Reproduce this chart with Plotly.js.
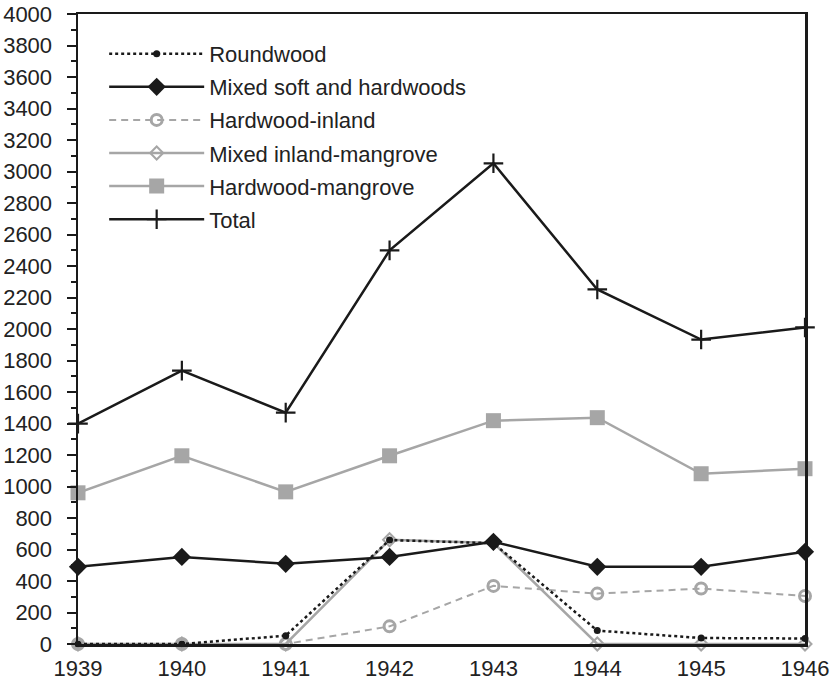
<!DOCTYPE html>
<html>
<head>
<meta charset="utf-8">
<script src="https://cdn.plot.ly/plotly-3.0.1.min.js"></script>
<style>html,body{margin:0;padding:0;background:#fff}#chart{width:831px;height:687px}</style>
</head>
<body>
<div id="chart"></div>
<script>
const years = [1939, 1940, 1941, 1942, 1943, 1944, 1945, 1946];
const roundwood = [0, 0, 53, 660, 640, 85, 38, 35];
const mixedSoftHard = [490, 553, 509, 553, 649, 490, 490, 585];
const hardwoodInland = [0, 0, 0, 112, 369, 320, 352, 305];
const mixedInlandMangrove = [0, 0, 0, 662, 642, 0, 0, 0];
const hardwoodMangrove = [960, 1195, 966, 1195, 1418, 1437, 1081, 1113];
const total = [1399, 1736, 1469, 2499, 3052, 2251, 1933, 2010];
const xTickLabels = ['1939', '1940', '1941', '1942', '1943', '1944', '1945', '1946'];

const black = '#1a1a1a';
const grey = '#a6a6a6';

const traces = [
  {name: 'Hardwood-mangrove', y: hardwoodMangrove, legendrank: 5,
   line: {color: grey, width: 2.5},
   marker: {symbol: 'square', size: 15, color: grey}},
  {name: 'Total', y: total, legendrank: 6,
   line: {color: black, width: 2.5},
   marker: {symbol: 'cross-thin', size: 14, line: {color: black, width: 2.2}, color: black}},
  {name: 'Hardwood-inland', y: hardwoodInland, legendrank: 3,
   line: {color: grey, width: 2, dash: '7px,5px'},
   marker: {symbol: 'circle-open', size: 11, line: {color: grey, width: 3}, color: grey}},
  {name: 'Mixed inland-mangrove', y: mixedInlandMangrove, legendrank: 4,
   line: {color: grey, width: 2.5},
   marker: {symbol: 'diamond-open', size: 10, line: {color: grey, width: 2}, color: grey}},
  {name: 'Mixed soft and hardwoods', y: mixedSoftHard, legendrank: 2,
   line: {color: black, width: 2.5},
   marker: {symbol: 'diamond', size: 14, color: black}},
  {name: 'Roundwood', y: roundwood, legendrank: 1,
   line: {color: black, width: 2.5, dash: 'dot'},
   marker: {symbol: 'circle', size: 7, color: black}}
].map((t, i) => Object.assign({
  x: years, type: 'scatter', mode: 'lines+markers', cliponaxis: false,
  legendgroup: 'g' + i
}, t));

const layout = {
  width: 831, height: 687,
  margin: {l: 78, r: 26, t: 14, b: 43},
  paper_bgcolor: '#fff', plot_bgcolor: '#fff',
  font: {family: 'Liberation Sans, Arial, sans-serif', size: 22, color: '#222'},
  showlegend: true,
  legend: {x: 0.036, y: 0.97, xanchor: 'left', yanchor: 'top',
           bgcolor: 'rgba(0,0,0,0)', tracegroupgap: 1.5, itemwidth: 95,
           font: {size: 22, color: '#222'}},
  xaxis: {
    range: [1939, 1946], tickvals: years, ticktext: xTickLabels,
    tickfont: {size: 22},
    showline: true, linecolor: black, linewidth: 2.5, mirror: true,
    ticks: '', showgrid: false, zeroline: false, ticklabelstandoff: 3
  },
  yaxis: {
    range: [0, 4000], dtick: 200, tick0: 0,
    tickfont: {size: 22},
    showline: true, linecolor: black, linewidth: 2.5, mirror: true,
    ticks: 'outside', ticklen: 9, tickwidth: 2, tickcolor: black,
    minor: {dtick: 100, ticks: 'outside', ticklen: 5, tickwidth: 2, tickcolor: black, showgrid: false},
    showgrid: false, zeroline: false, ticklabelstandoff: 10
  }
};

Plotly.newPlot('chart', traces, layout, {displayModeBar: false, staticPlot: true});
</script>
</body>
</html>
